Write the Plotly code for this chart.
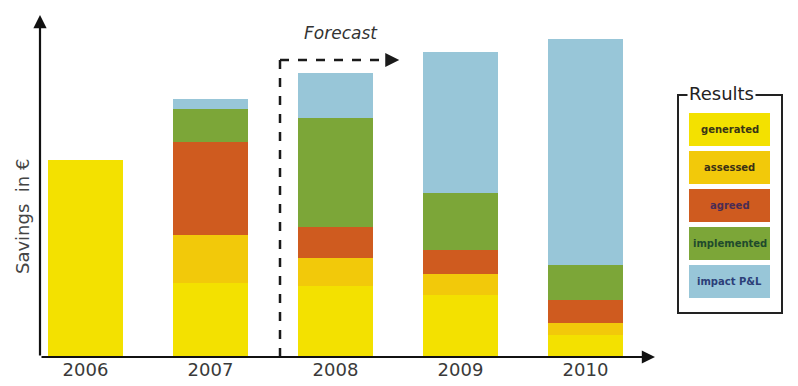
import plotly.graph_objects as go

years = ["2006", "2007", "2008", "2009", "2010"]
series_names = ["generated", "assessed", "agreed", "implemented", "impact P&L"]
generated = [197, 74, 71, 62, 22]
assessed = [0, 48, 28, 21, 12]
agreed = [0, 93, 31, 24, 23]
implemented = [0, 33, 109, 57, 35]
impact = [0, 10, 45, 141, 226]
values = [generated, assessed, agreed, implemented, impact]

colors = ["#f3e100", "#f2c90a", "#cf5b1f", "#7ca638", "#98c6d8"]
text_colors = ["#3a3515", "#3a3015", "#4a2c55", "#1f4a2c", "#2c3f78"]

W, H = 798, 386
L, R, T, B = 40, 138, 15, 29
pw, ph = W - L - R, H - T - B

fig = go.Figure()
for name, vals, col in zip(series_names, values, colors):
    fig.add_trace(go.Bar(x=list(range(len(years))), y=vals, name=name,
                         marker=dict(color=col, line=dict(width=0)),
                         width=0.6, hoverinfo="skip"))

def px2paper(px, py):
    return (px - L) / pw, (H - B - py) / ph

shapes = []
annotations = []

# axes with arrows
annotations.append(dict(xref="paper", yref="paper", x=0, y=1, ax=0, ay=ph,
                        axref="pixel", ayref="pixel", showarrow=True, arrowhead=2,
                        arrowsize=1.2, arrowwidth=2.2, arrowcolor="#111", text=""))
xa_end = (655 - L) / pw
annotations.append(dict(xref="paper", yref="paper", x=xa_end, y=0, ax=-(655 - L), ay=0,
                        axref="pixel", ayref="pixel", showarrow=True, arrowhead=2,
                        arrowsize=1.2, arrowwidth=2.2, arrowcolor="#111", text=""))

# forecast dashed bracket
fx0 = 1.556
fx1 = 2.43
fy = 297
shapes.append(dict(type="line", xref="x", yref="y", x0=fx0, y0=0, x1=fx0, y1=fy,
                   line=dict(color="#1a1a1a", width=2.5, dash="dash")))
shapes.append(dict(type="line", xref="x", yref="y", x0=fx0, y0=fy, x1=fx1, y1=fy,
                   line=dict(color="#1a1a1a", width=2.5, dash="dash")))
annotations.append(dict(xref="x", yref="y", x=2.51, y=fy, ax=-10, ay=0,
                        axref="pixel", ayref="pixel", showarrow=True, arrowhead=2,
                        arrowsize=1.4, arrowwidth=2, arrowcolor="#1a1a1a", text=""))
annotations.append(dict(xref="x", yref="y", x=2.04, y=324, text="<i>Forecast</i>",
                        xanchor="center", yanchor="middle",
                        showarrow=False, font=dict(family="DejaVu Sans", size=17, color="#333")))

# y axis title
yx, yy = px2paper(22, 217)
annotations.append(dict(xref="paper", yref="paper", x=yx, y=yy,
                        text="Savings&nbsp; in €",
                        textangle=-90, showarrow=False, xanchor="center", yanchor="middle",
                        font=dict(family="DejaVu Sans", size=18, color="#444")))

# custom legend
bx0, by0 = px2paper(678, 95)
bx1, by1 = px2paper(782, 313)
shapes.append(dict(type="rect", xref="paper", yref="paper", x0=bx0, y0=by1, x1=bx1, y1=by0,
                   line=dict(color="#222", width=2)))
tx, ty = px2paper(721, 93)
annotations.append(dict(xref="paper", yref="paper", x=tx, y=ty, text="Results",
                        showarrow=False, bgcolor="white", borderpad=1,
                        xanchor="center", yanchor="middle",
                        font=dict(family="DejaVu Sans", size=18, color="#222")))
item_top = 113
for i, (name, col, tcol) in enumerate(zip(series_names, colors, text_colors)):
    top = item_top + i * 38
    x0p, y0p = px2paper(689, top)
    x1p, y1p = px2paper(770, top + 33)
    shapes.append(dict(type="rect", xref="paper", yref="paper", x0=x0p, y0=y1p, x1=x1p, y1=y0p,
                       fillcolor=col, line=dict(width=0)))
    cx, cy = px2paper(729.5, top + 16.5)
    annotations.append(dict(xref="paper", yref="paper", x=cx, y=cy, text="<b>" + name + "</b>",
                            showarrow=False, xanchor="center", yanchor="middle",
                            font=dict(family="DejaVu Sans", size=10, color=tcol)))

fig.update_layout(
    width=W, height=H, margin=dict(l=L, r=R, t=T, b=B, autoexpand=False),
    barmode="stack", showlegend=False,
    plot_bgcolor="white", paper_bgcolor="white",
    xaxis=dict(range=[-0.364, -0.364 + pw / 125], tickvals=list(range(len(years))),
               ticktext=years, showgrid=False, zeroline=False, showline=False, ticks="",
               automargin=False, ticklabelstandoff=0,
               tickfont=dict(family="DejaVu Sans", size=18, color="#3a3a3a"),
               fixedrange=True),
    yaxis=dict(range=[0, ph], showticklabels=False, showgrid=False, zeroline=False,
               showline=False, ticks="", automargin=False, fixedrange=True),
    shapes=shapes, annotations=annotations,
)

fig.write_html("out.html", config={"displayModeBar": False})
